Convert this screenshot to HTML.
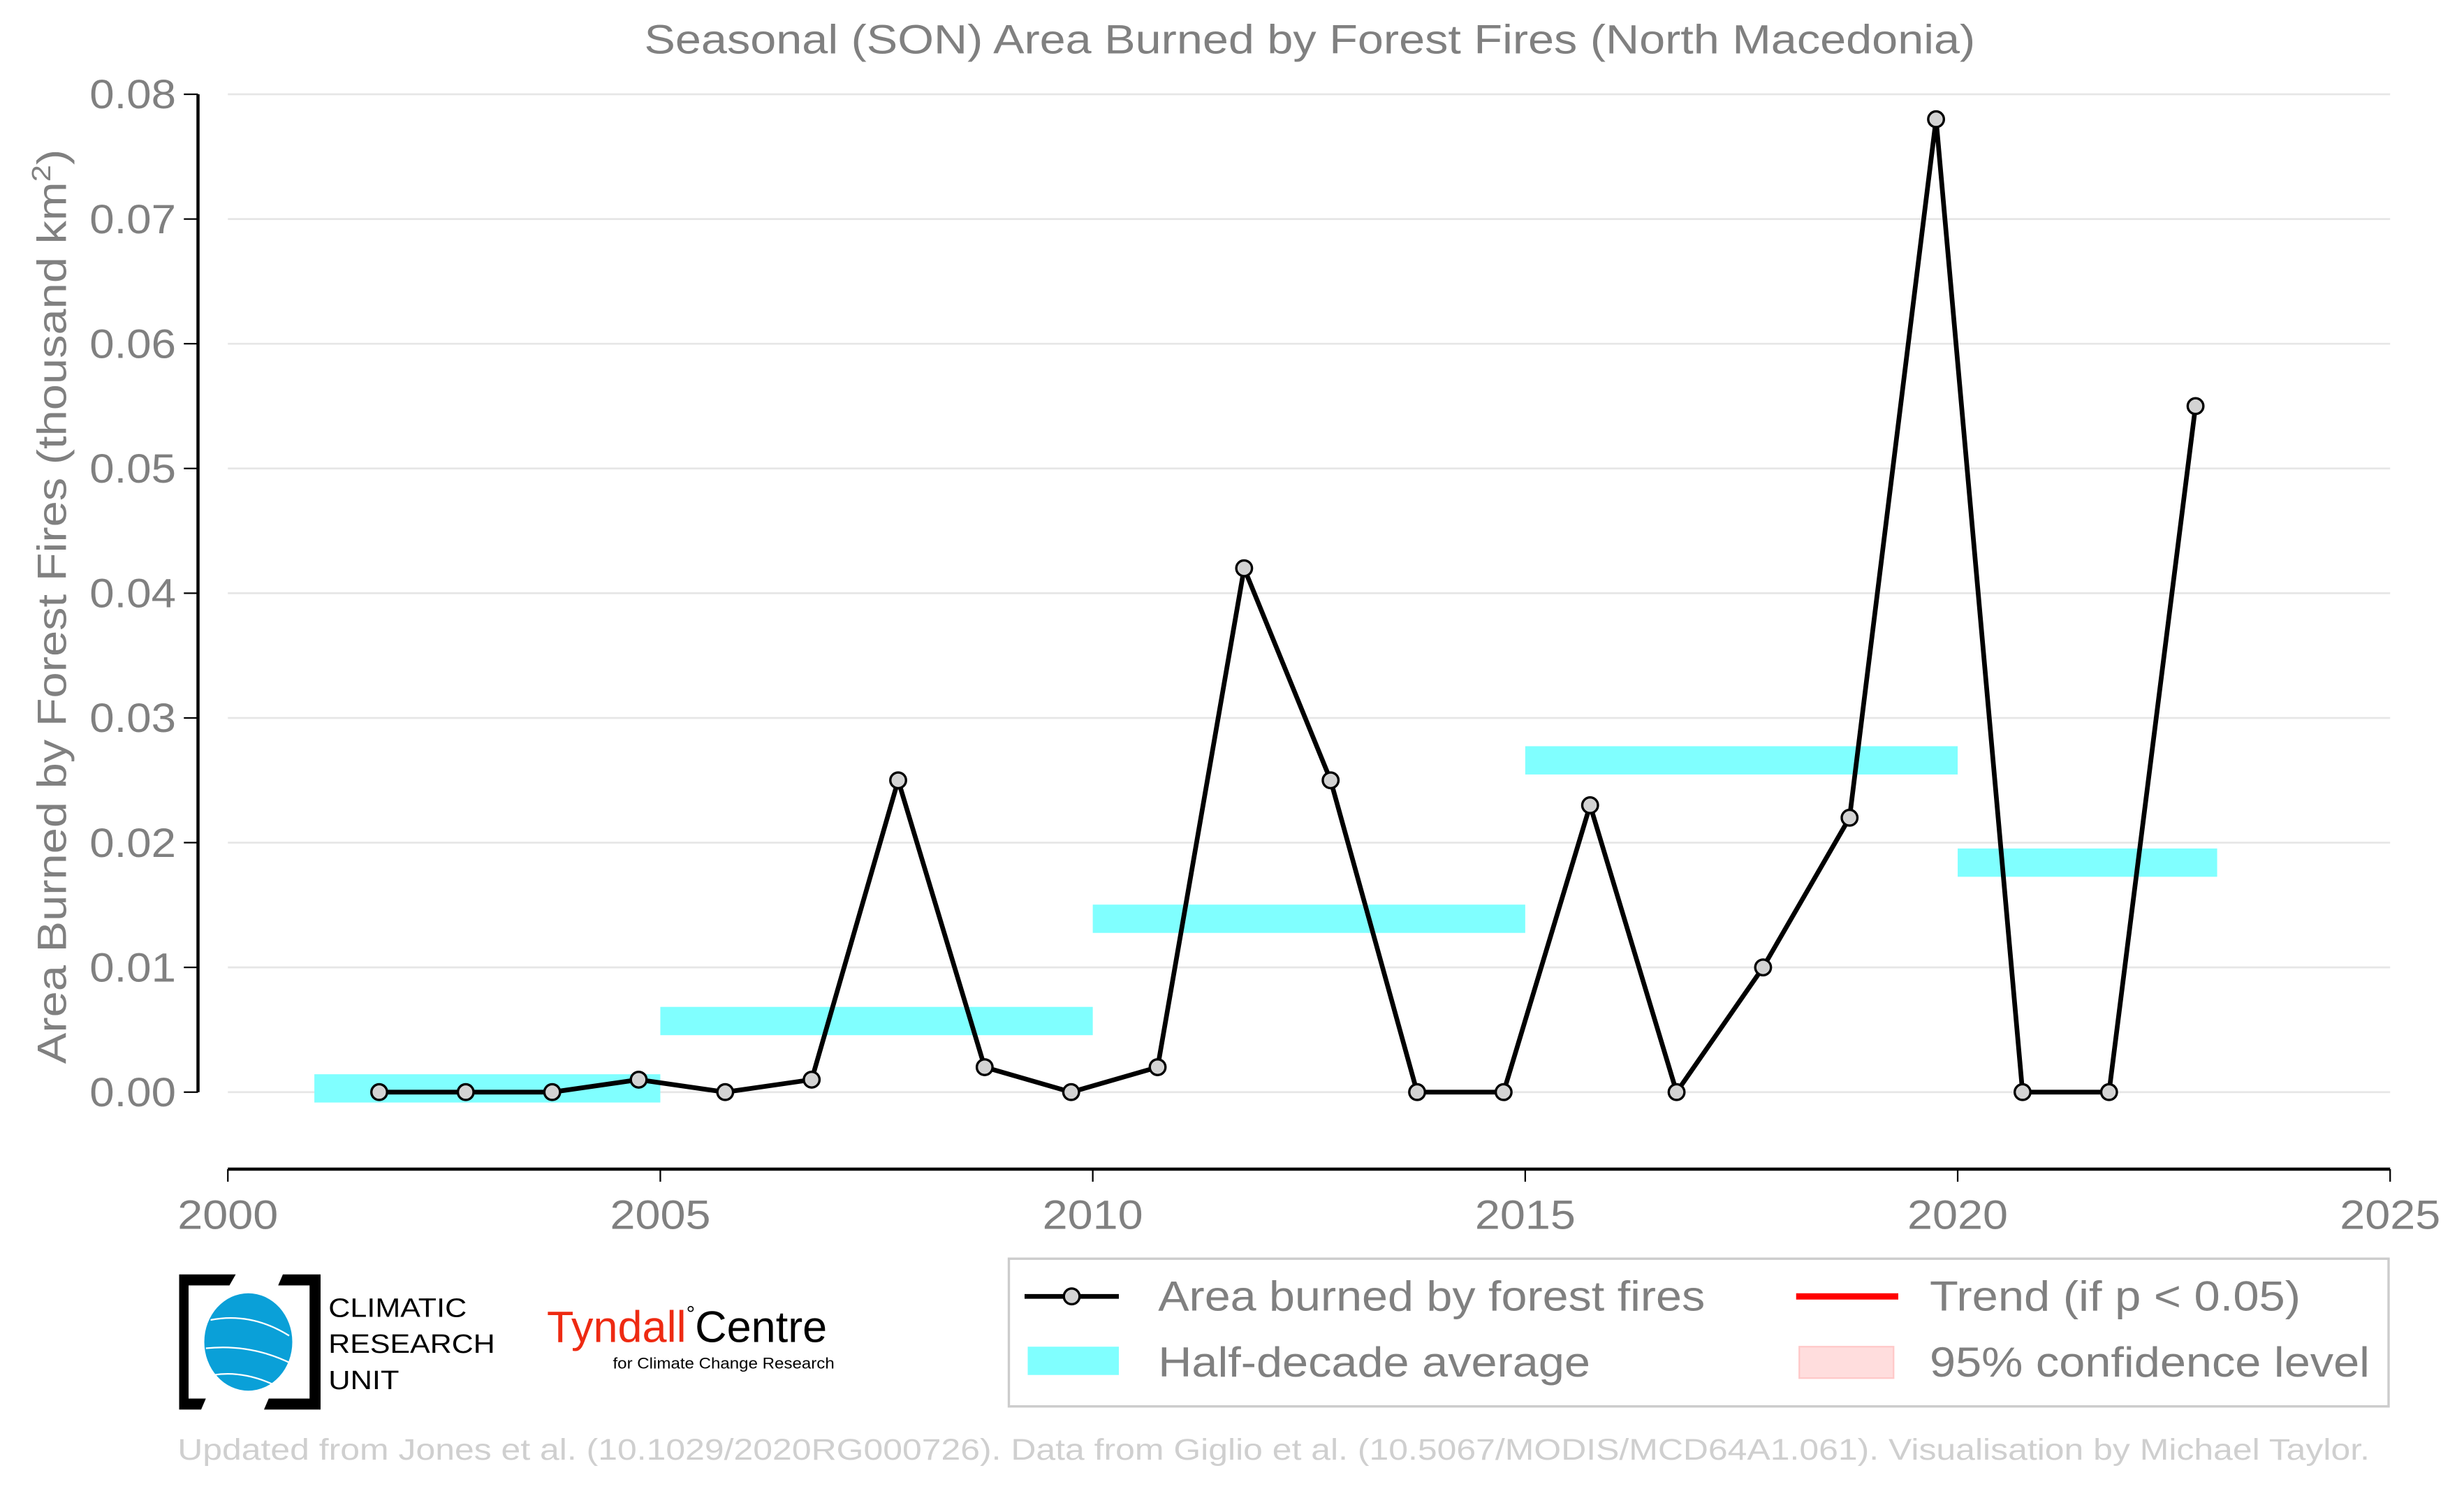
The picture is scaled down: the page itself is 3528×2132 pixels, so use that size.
<!DOCTYPE html>
<html><head><meta charset="utf-8"><style>
html,body{margin:0;padding:0;background:#fff}
svg{display:block}
text{font-family:"Liberation Sans",Arial,sans-serif}
</style></head><body>
<svg id="chart" width="3528" height="2132" viewBox="0 0 1568 947.56" xmlns="http://www.w3.org/2000/svg">
<rect width="1568" height="947.56" fill="#fff"/>
<text x="410" y="34" textLength="847" lengthAdjust="spacingAndGlyphs" font-size="26" fill="#808080">Seasonal (SON) Area Burned by Forest Fires (North Macedonia)</text>
<g id="grid"></g>
<g id="bars"></g>
<g id="axes"></g>
<g id="series"></g>
<text transform="translate(42,677) rotate(-90)" font-size="26" fill="#808080" textLength="582" lengthAdjust="spacingAndGlyphs">Area Burned by Forest Fires (thousand km<tspan font-size="17" dy="-10">2</tspan><tspan dy="10">)</tspan></text>

<g>
<path d="M114,811 H150 L146,818 H120 V890 H131 L128,897 H114 Z" fill="#000"/>
<path d="M180,811 H204 V897 H168 L171,890 H197 V818 H177 Z" fill="#000"/>
<ellipse cx="158" cy="854" rx="28" ry="31" fill="#0aa0d8"/>
<path d="M134,840 Q160,835 184,850 M131,858 Q160,855 186,868 M136,875 Q155,872 176,882" stroke="#fff" stroke-width="1" fill="none"/>
<text x="209" y="838" font-size="17" fill="#000" textLength="88" lengthAdjust="spacingAndGlyphs">CLIMATIC</text>
<text x="209" y="861" font-size="17" fill="#000" textLength="106" lengthAdjust="spacingAndGlyphs">RESEARCH</text>
<text x="209" y="884" font-size="17" fill="#000" textLength="45" lengthAdjust="spacingAndGlyphs">UNIT</text>
</g>
<g>
<text x="348" y="854" font-size="28" fill="#ee2a12">Tyndall<tspan fill="#000" font-size="14" dy="-13">°</tspan><tspan fill="#000" font-size="28" dy="13">Centre</tspan></text>
<text x="390" y="871" font-size="10" fill="#000" textLength="141" lengthAdjust="spacingAndGlyphs">for Climate Change Research</text>
</g>

<g>
<rect x="642" y="801" width="878" height="94" fill="#fff" stroke="#ccc" stroke-width="1.5"/>
<g>
<line x1="652" y1="825" x2="712" y2="825" stroke="#000" stroke-width="3"/>
<circle cx="682" cy="825" r="5" fill="#d3d3d3" stroke="#000" stroke-width="1.5"/>
<text x="737" y="834" font-size="27" fill="#808080" textLength="348" lengthAdjust="spacingAndGlyphs">Area burned by forest fires</text>
</g>
<g>
<rect x="654" y="857" width="58" height="18" fill="#80ffff"/>
<text x="737" y="876" font-size="27" fill="#808080" textLength="275" lengthAdjust="spacingAndGlyphs">Half-decade average</text>
</g>
<g>
<line x1="1143" y1="825" x2="1208" y2="825" stroke="#ff0000" stroke-width="4"/>
<text x="1228" y="834" font-size="27" fill="#808080" textLength="236" lengthAdjust="spacingAndGlyphs">Trend (if p &lt; 0.05)</text>
</g>
<g>
<rect x="1145" y="857" width="60" height="20" fill="#ffdddd" stroke="#ffc8c8"/>
<text x="1228" y="876" font-size="27" fill="#808080" textLength="280" lengthAdjust="spacingAndGlyphs">95% confidence level</text>
</g>
</g>
<text x="113" y="929" font-size="19" fill="#cfcfcf" textLength="1395" lengthAdjust="spacingAndGlyphs">Updated from Jones et al. (10.1029/2020RG000726). Data from Giglio et al. (10.5067/MODIS/MCD64A1.061). Visualisation by Michael Taylor.</text>

<script>
const years = [2001,2002,2003,2004,2005,2006,2007,2008,2009,2010,2011,2012,2013,2014,2015,2016,2017,2018,2019,2020,2021,2022];
const burned = [0,0,0,0.001,0,0.001,0.025,0.002,0,0.002,0.042,0.025,0,0,0.023,0,0.010,0.022,0.078,0,0,0.055];
const halfStart = [2001,2005,2010,2015,2020];
const halfEnd = [2005,2010,2015,2020,2023];
const halfAvg = [0.0003,0.0057,0.0139,0.0266,0.0184];
const yTicks = [0,0.01,0.02,0.03,0.04,0.05,0.06,0.07,0.08];
const xTicks = [2000,2005,2010,2015,2020,2025];

const NS="http://www.w3.org/2000/svg";
const X = v => 145 + (v-2000)*(1521-145)/25;
const Y = v => 695 - v*(695-60)/0.08;
function mk(tag, attrs, parent){const e=document.createElementNS(NS,tag);for(const k in attrs)e.setAttribute(k,attrs[k]);document.getElementById(parent).appendChild(e);return e;}

yTicks.forEach((t,i)=>{
  const g=mk('line',{x1:145,x2:1521,y1:Y(t),y2:Y(t),stroke:'#e6e6e6','stroke-width':1.2},'grid');
  
  
  const tk=mk('line',{x1:117,x2:126,y1:Y(t),y2:Y(t),stroke:'#000','stroke-width':1},'axes');
  
  
  const tx=mk('text',{x:57,y:Y(t)+9,'font-size':26,fill:'#808080',textLength:55,lengthAdjust:'spacingAndGlyphs'},'axes');
  tx.textContent=t.toFixed(2);
  
  
});
const ys=mk('line',{x1:126,x2:126,y1:Y(0.08),y2:Y(0),stroke:'#000','stroke-width':2},'axes');


const xs=mk('line',{x1:X(2000),x2:X(2025),y1:744,y2:744,stroke:'#000','stroke-width':2},'axes');


xTicks.forEach(t=>{
  const tk=mk('line',{x1:X(t),x2:X(t),y1:744,y2:752,stroke:'#000','stroke-width':1},'axes');
  
  
  const tx=mk('text',{x:X(t)-32,y:782,'font-size':26,fill:'#808080',textLength:64,lengthAdjust:'spacingAndGlyphs'},'axes');
  tx.textContent=t;
  
  
});
halfAvg.forEach((v,i)=>{
  const r=mk('rect',{x:X(halfStart[i]),y:Y(v)-9,width:X(halfEnd[i])-X(halfStart[i]),height:18,fill:'#80ffff'},'bars');
  
  
});
const pts=years.map((yr,i)=>X(yr+0.75)+','+Y(burned[i])).join(' ');
const pl=mk('polyline',{points:pts,fill:'none',stroke:'#000','stroke-width':3,'stroke-linejoin':'round'},'series');


years.forEach((yr,i)=>{
  const c=mk('circle',{cx:X(yr+0.75),cy:Y(burned[i]),r:5,fill:'#d3d3d3',stroke:'#000','stroke-width':1.5},'series');
  
  
});
</script>
</svg>
</body></html>
